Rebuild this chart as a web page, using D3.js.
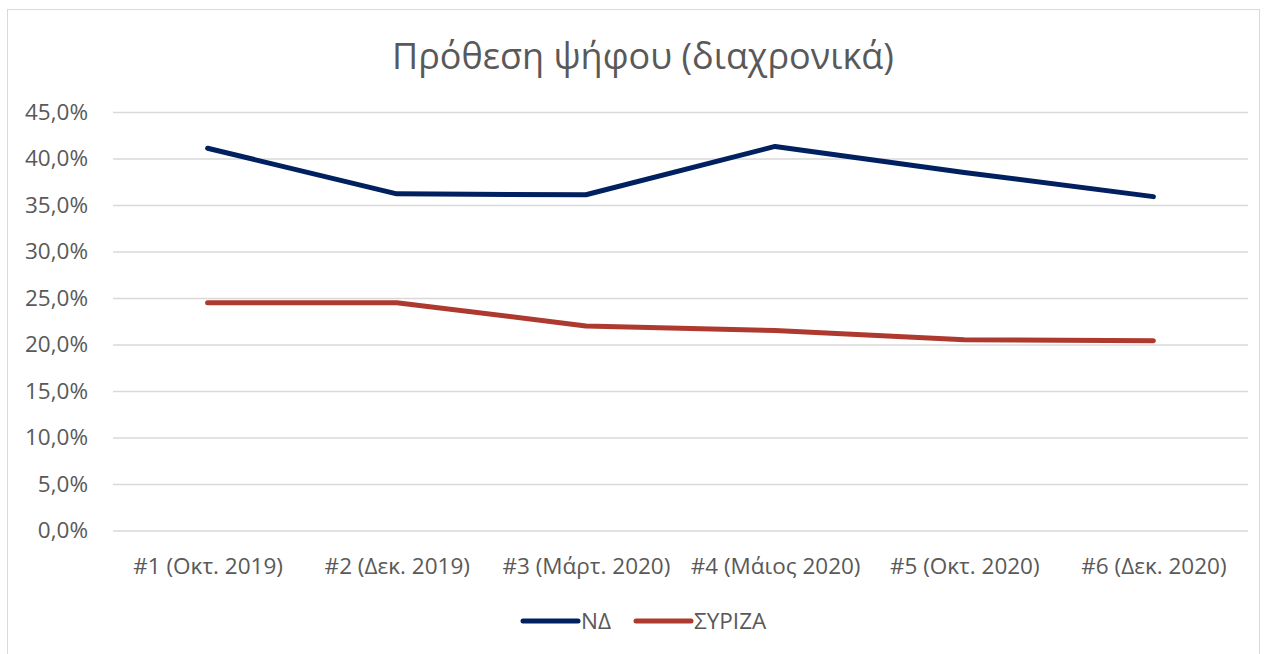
<!DOCTYPE html>
<html><head><meta charset="utf-8">
<script src="https://cdn.jsdelivr.net/npm/d3@7"></script>
<style>body{margin:0;background:#fff;} text{font-family:"Open Sans","Noto Sans",sans-serif;}</style>
</head><body>
<svg id="c" width="1267" height="654"></svg>
<script>
const categories = ["#1 (Οκτ. 2019)","#2 (Δεκ. 2019)","#3 (Μάρτ. 2020)","#4 (Μάιος 2020)","#5 (Οκτ. 2020)","#6 (Δεκ. 2020)"];
const seriesNames = ["ΝΔ","ΣΥΡΙΖΑ"];
const ndValues = [41.1, 36.2, 36.1, 41.3, 38.5, 35.9];
const syrizaValues = [24.5, 24.5, 22.0, 21.5, 20.5, 20.4];
const yTicks = [0,5,10,15,20,25,30,35,40,45];
const colors = ["#002060","#AE3A2F"];
const title = "Πρόθεση ψήφου (διαχρονικά)";

(function(){
const svg = d3.select("#c");
const pL = 113, pR = 1248, pT = 112, pB = 530.5;
const fs = "22.5px";

svg.append("rect").attr("x",7.5).attr("y",9.5).attr("width",1252).attr("height",650)
  .attr("fill","#fff").attr("stroke","#d9d9d9").attr("stroke-width",1);

const x = d3.scalePoint().domain(categories).range([pL,pR]).padding(0.5);
const y = d3.scaleLinear().domain([0,45]).range([pB,pT]);

const yAxis = d3.axisLeft(y).tickValues(yTicks).tickSize(-(pR-pL)).tickPadding(25)
  .tickFormat(d => d3.format(".1f")(d).replace(".",",") + "%");
const gy = svg.append("g").attr("transform",`translate(${pL},0)`).call(yAxis);
gy.select(".domain").remove();
gy.selectAll(".tick line").attr("stroke","#d9d9d9").attr("stroke-width",1.5);
gy.selectAll(".tick text").attr("fill","#595959").attr("font-size",fs)
  .style("font-family",'"Open Sans","Noto Sans",sans-serif');

const xAxis = d3.axisBottom(x).tickSize(0).tickPadding(28);
const gx = svg.append("g").attr("transform",`translate(0,${pB})`).call(xAxis);
gx.select(".domain").remove();
gx.selectAll(".tick text").attr("fill","#595959").attr("font-size",fs)
  .style("font-family",'"Open Sans","Noto Sans",sans-serif');

const line = d3.line().x((d,i)=>x(categories[i])).y(d=>y(d));
[ndValues, syrizaValues].forEach((vals,k)=>{
  svg.append("path").datum(vals).attr("d",line).attr("fill","none")
    .attr("stroke",colors[k]).attr("stroke-width",5).attr("stroke-linecap","round").attr("stroke-linejoin","round");
});

svg.append("text").attr("x",643).attr("y",69).attr("text-anchor","middle")
  .attr("fill","#595959").attr("font-size","36px").text(title);

const legendX = [523, 636];
seriesNames.forEach((n,k)=>{
  const g = svg.append("g").attr("transform",`translate(${legendX[k]},621)`);
  g.append("line").attr("x1",0).attr("x2",55).attr("stroke",colors[k]).attr("stroke-width",5).attr("stroke-linecap","round");
  g.append("text").attr("x",58).attr("y",8).attr("fill","#595959").attr("font-size",fs).text(n);
});
})();
</script>
</body></html>
